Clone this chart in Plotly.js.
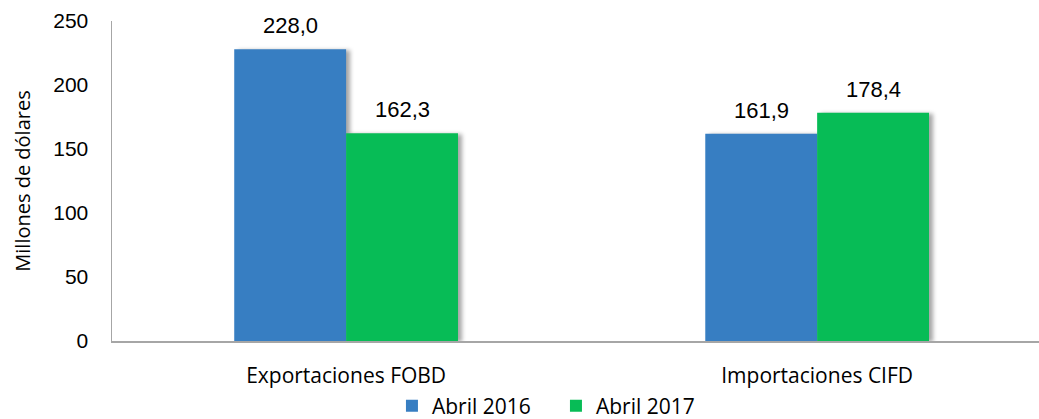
<!DOCTYPE html>
<html>
<head>
<meta charset="utf-8">
<script src="https://cdn.plot.ly/plotly-3.0.1.min.js"></script>
<style>
html,body{margin:0;padding:0;background:#fff;}
#chart{width:1039px;height:419px;}
#chart .bars .point path{filter: drop-shadow(4px 1px 2px rgba(0,0,0,0.35));}
</style>
</head>
<body>
<div id="chart"></div>
<script>
const categories = ["Exportaciones FOBD", "Importaciones CIFD"];
const series2016 = [228.0, 161.9];
const series2017 = [162.3, 178.4];
const seriesNames = ["Abril 2016", "Abril 2017"];
const yTicks = [0, 50, 100, 150, 200, 250];

const labelFont = {family: "Liberation Sans, Arial, sans-serif", size: 22, color: "#000"};
const traces = [
  {type: "bar", name: seriesNames[0], x: categories, y: series2016,
   marker: {color: "#377EC2"}, hoverinfo: "none"},
  {type: "bar", name: seriesNames[1], x: categories, y: series2017,
   marker: {color: "#07BC56"}, hoverinfo: "none"}
];
const fmt = v => v.toFixed(1).replace(".", ",");
const annotations = [];
[series2016, series2017].forEach((vals, si) => {
  vals.forEach((v, ci) => {
    annotations.push({x: categories[ci], y: v, xref: "x", yref: "y", text: fmt(v),
      showarrow: false, xanchor: "center", yanchor: "bottom", xshift: si === 0 ? -56 : 56,
      yshift: 9, font: labelFont});
  });
});
const layout = {
  width: 1039, height: 419,
  margin: {l: 112, r: 0, t: 21, b: 78},
  paper_bgcolor: "#fff", plot_bgcolor: "#fff",
  separators: ",.",
  barmode: "group", bargap: 0.525, bargroupgap: 0,
  showlegend: true,
  annotations: annotations,
  legend: {orientation: "h", xref: "paper", x: 0.302, xanchor: "left",
           yref: "container", y: 0.031, yanchor: "middle",
           entrywidth: 119, entrywidthmode: "pixels",
           font: {family: "Open Sans, sans-serif", size: 21, color: "#000"},
           traceorder: "normal"},
  xaxis: {type: "category", range: [-0.497, 1.471], showline: true, linecolor: "#A6A6A6",
          linewidth: 1.5, ticks: "", showgrid: false, zeroline: false,
          tickfont: {family: "Open Sans, sans-serif", size: 21, color: "#000"}, ticklabelstandoff: 15},
  yaxis: {range: [0, 250], tickvals: yTicks, showline: true, linecolor: "#A6A6A6", linewidth: 1.5,
          ticks: "", showgrid: false, zeroline: false, ticklabelstandoff: 18,
          tickfont: {family: "Liberation Sans, Arial, sans-serif", size: 21, color: "#000"},
          title: {text: "Millones de dólares", standoff: 17,
                  font: {family: "Open Sans, sans-serif", size: 20, color: "#000"}}}
};
Plotly.newPlot("chart", traces, layout, {displayModeBar: false, staticPlot: true});
</script>
</body>
</html>
